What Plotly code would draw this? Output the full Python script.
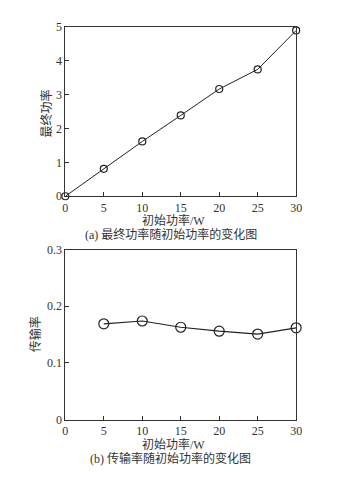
import plotly.graph_objects as go

init_power = [0, 5, 10, 15, 20, 25, 30]
final_power = [0, 0.81, 1.62, 2.39, 3.17, 3.75, 4.90]
init_power_b = [5, 10, 15, 20, 25, 30]
trans_rate = [0.169, 0.174, 0.163, 0.156, 0.151, 0.162]

FONT = "Liberation Serif, Noto Sans CJK SC, serif"
W, H = 345, 477

def py(p):
    return 1 - p / H

def px(p):
    return p / W

fig = go.Figure()
fig.add_trace(go.Scatter(x=init_power, y=final_power, mode="lines+markers",
                         line=dict(color="#222", width=1),
                         marker=dict(symbol="circle-open", size=7, color="#222", line=dict(width=1.2)),
                         xaxis="x", yaxis="y", showlegend=False, cliponaxis=False))
fig.add_trace(go.Scatter(x=init_power_b, y=trans_rate, mode="lines+markers",
                         line=dict(color="#222", width=1.2),
                         marker=dict(symbol="circle-open", size=10, color="#222", line=dict(width=1.2)),
                         xaxis="x2", yaxis="y2", showlegend=False, cliponaxis=False))

axcommon = dict(showgrid=False, zeroline=False, showline=True, mirror=True,
                linecolor="#333", linewidth=1, ticks="inside", ticklen=4,
                tickcolor="#333", tickfont=dict(family=FONT, size=12, color="#333"),
                ticklabelstandoff=0)

fig.update_layout(
    width=W, height=H, margin=dict(l=0, r=0, t=0, b=0),
    paper_bgcolor="white", plot_bgcolor="white",
    xaxis=dict(domain=[px(64), px(301)], range=[0, 30], tickvals=[0, 5, 10, 15, 20, 25, 30],
               anchor="y", **axcommon),
    yaxis=dict(domain=[py(195), py(20.7)], range=[0, 5], tickvals=[0, 1, 2, 3, 4, 5],
               anchor="x", **axcommon),
    xaxis2=dict(domain=[px(64), px(301)], range=[0, 30], tickvals=[0, 5, 10, 15, 20, 25, 30],
                anchor="y2", **axcommon),
    yaxis2=dict(domain=[py(425), py(250)], range=[0, 0.3], tickvals=[0, 0.1, 0.2, 0.3],
                ticktext=["0", "0.1", "0.2", "0.3"], anchor="x2", **axcommon),
)

def ann(text, x, y, angle=0, size=12):
    fig.add_annotation(text=text, x=px(x), y=py(y), xref="paper", yref="paper",
                       showarrow=False, textangle=angle, xanchor="center", yanchor="middle",
                       font=dict(family=FONT, size=size, color="#333"))

ann("初始功率/W", 175, 220)
ann("(a) 最终功率随初始功率的变化图", 172, 234)
ann("最终功率", 45, 110, angle=-90)
ann("初始功率/W", 175, 451)
ann("(b) 传输率随初始功率的变化图", 172, 465)
ann("传输率", 33, 337, angle=-90)

fig.write_html("out.html")
